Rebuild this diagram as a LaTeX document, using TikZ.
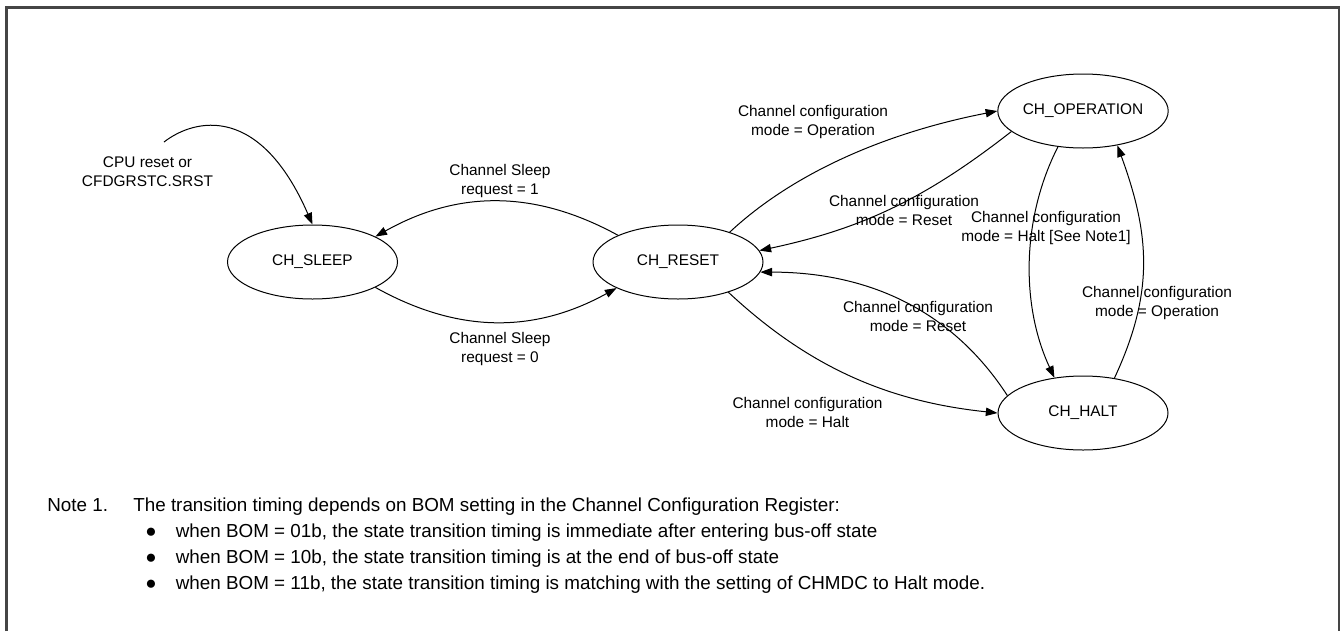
\documentclass[tikz,border=0pt]{standalone}
\usepackage{fontspec}
\setmainfont{Liberation Sans}
\usepackage{xcolor}
\usepackage{tikz}
\usetikzlibrary{shapes.geometric,arrows.meta}
\definecolor{framegray}{HTML}{454545}
\newcommand{\lblfont}{\fontsize{9.25}{11.4}\selectfont}
\newcommand{\notefont}{\fontsize{11.3}{15.6}\selectfont}

\begin{document}
\begin{tikzpicture}[x=0.6pt, y=0.6pt,
    state/.style={ellipse, draw, line width=0.6pt, minimum width=102pt,
                  minimum height=44.4pt, inner sep=0pt, font=\lblfont},
    lbl/.style={align=center, font=\lblfont, inner sep=0pt},
    arrow/.style={-{Triangle[length=7pt,width=5pt]}, line width=0.6pt},
    notetxt/.style={anchor=base west, font=\notefont, inner sep=0pt},
]
\useasboundingbox (0,0) rectangle (1341,-631);
\draw[framegray, line width=1.3pt] (6.5,-631) -- (6.5,-7.5) -- (1339,-7.5) -- (1339,-631);

\node[state] (sleep) at (312.5,-262) {CH\_SLEEP};
\node[state] (reset) at (678,-262) {CH\_RESET};
\node[state] (oper) at (1083,-111) {CH\_OPERATION};
\node[state] (halt) at (1083,-413) {CH\_HALT};

\coordinate (cpu) at (164,-142);
\draw[arrow] (cpu) .. controls (195,-118) and (260,-104) .. (sleep.north);
\node[lbl] (cpulbl) at (147.5,-172) {CPU reset or\\CFDGRSTC.SRST};

\draw[arrow] (reset.156) to[bend right=29] (sleep.22);
\draw[arrow] (sleep.-22) to[bend right=29] (reset.203);
\node[lbl] (sleepreq) at (500,-181) {Channel Sleep\\request = 1};
\node[lbl] (wakereq) at (500,-349) {Channel Sleep\\request = 0};

\draw[arrow] (reset.30) .. controls +(43:88) and +(191:112) .. (oper.west);
\draw[arrow] (oper.196) .. controls +(218:107) and +(12:107) .. (reset.8);
\draw[arrow] (halt.167) .. controls +(123:100) and +(0:110) .. (reset.-7);
\draw[arrow] (reset.-31) .. controls +(-43:110) and +(174:110) .. (halt.west);
\draw[arrow] (oper.235) .. controls +(243:80) and +(115:80) .. (halt.129);
\draw[arrow] (halt.48) .. controls +(65:95) and +(-70:95) .. (oper.-45);

\node[lbl] (toop) at (813,-122) {Channel configuration\\mode = Operation};
\node[lbl] (oprst) at (904,-210) {Channel configuration\\mode = Reset};
\node[lbl] (haltrst) at (918,-316) {Channel configuration\\mode = Reset};
\node[lbl] (tohalt) at (807.5,-412) {Channel configuration\\mode = Halt};
\node[lbl] (ophalt) at (1046,-228) {Channel configuration\\mode = Halt [See Note1]};
\node[lbl] (haltop) at (1157,-303) {Channel configuration\\mode = Operation};

\node[notetxt] (note) at (47,-511) {Note 1.};
\node[notetxt] (notehead) at (133,-511) {The transition timing depends on BOM setting in the Channel Configuration Register:};
\node[notetxt] (bomA) at (145,-537) {●\hspace{11.5pt}when BOM = 01b, the state transition timing is immediate after entering bus-off state};
\node[notetxt] (bomB) at (145,-563) {●\hspace{11.5pt}when BOM = 10b, the state transition timing is at the end of bus-off state};
\node[notetxt] (bomC) at (145,-589) {●\hspace{11.5pt}when BOM = 11b, the state transition timing is matching with the setting of CHMDC to Halt mode.};
\end{tikzpicture}
\end{document}
